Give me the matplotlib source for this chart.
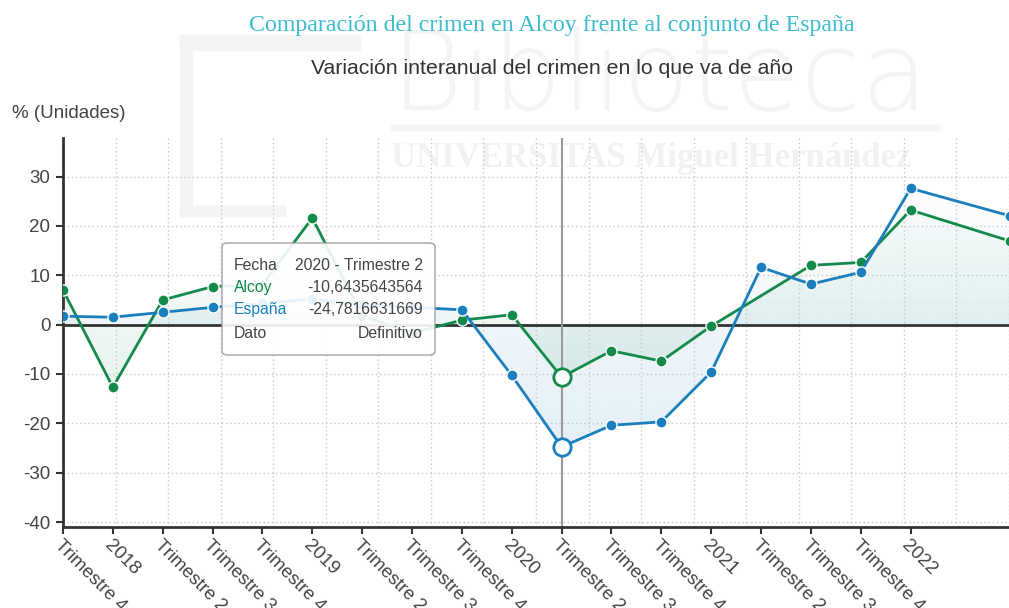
import numpy as np
import matplotlib
matplotlib.use("Agg")
import matplotlib.pyplot as plt
from matplotlib.patches import PathPatch, FancyBboxPatch, Rectangle
from matplotlib.colors import to_rgb

plt.rcParams["font.family"] = ["Liberation Sans", "DejaVu Sans"]
plt.rcParams["axes.unicode_minus"] = False

# quarters from 2017 T4 on, tick label text
tickLabels = ["Trimestre 4", "2018", "Trimestre 2", "Trimestre 3", "Trimestre 4",
              "2019", "Trimestre 2", "Trimestre 3", "Trimestre 4",
              "2020", "Trimestre 2", "Trimestre 3", "Trimestre 4",
              "2021", "Trimestre 2", "Trimestre 3", "Trimestre 4", "2022"]

# quarter index of each data point (last one falls just outside the view)
quarterPos = [0, 1, 2, 3, 4, 5, 6, 7, 8, 9, 10, 11, 12, 13, 14, 15, 16, 17, 19]

alcoy = [7.0, -12.7, 5.0, 7.7, 8.1, 21.6, 1.8, -1.7, 0.9, 2.0, -10.6435643564,
         -5.3, -7.4, -0.3, None, 12.0, 12.6, 23.2, 16.9]
espana = [1.7, 1.5, 2.5, 3.5, 4.3, 5.2, 4.0, 3.5, 3.0, -10.3, -24.7816631669,
          -20.4, -19.7, -9.6, 11.6, 8.2, 10.6, 27.6, 22.0]

hoverIdx = 10
hoverLabel = "2020 - Trimestre 2"

green = "#138a4c"
blue = "#1b7fbd"
textCol = "#444444"
wm = "#f4f4f4"

yMin, yMax = -41, 37.8
xMax = 18.84

fig = plt.figure(figsize=(10.09, 6.08), dpi=100)
ax = fig.add_axes([63 / 1009, 81 / 608, 946 / 1009, 389 / 608])
ax.set_facecolor("none")
ax.set_zorder(1)

# faint library watermark behind the chart
fig.text(391 / 1009, 1 - 110 / 608, "Biblioteca", fontsize=79, color=wm,
         family="DejaVu Sans", fontweight="light", va="baseline", zorder=0)
fig.patches.append(Rectangle((391 / 1009, 1 - 130 / 608), 548 / 1009, 5 / 608,
                             transform=fig.transFigure, color=wm, zorder=0))
fig.text(391 / 1009, 1 - 167 / 608, "UNIVERSITAS Miguel Hernández", fontsize=25,
         color="#f1f1f1", family="Liberation Serif", fontweight="bold",
         va="baseline", zorder=0)
fig.patches.append(Rectangle((180 / 1009, 1 - 212 / 608), 12 / 1009, 177 / 608,
                             transform=fig.transFigure, color=wm, zorder=0))
fig.patches.append(Rectangle((180 / 1009, 1 - 50 / 608), 180 / 1009, 15 / 608,
                             transform=fig.transFigure, color=wm, zorder=0))
fig.patches.append(Rectangle((180 / 1009, 1 - 216 / 608), 105 / 1009, 10 / 608,
                             transform=fig.transFigure, color=wm, zorder=0))


def gradFill(xs, ys, color):
    poly = ax.fill_between(xs, ys, 0, facecolor="none", edgecolor="none")
    clip = PathPatch(poly.get_paths()[0], facecolor="none", edgecolor="none",
                     transform=ax.transData)
    ax.add_patch(clip)
    yy = np.linspace(yMax, yMin, 300)
    img = np.zeros((300, 1, 4))
    img[..., :3] = to_rgb(color)
    img[:, 0, 3] = np.clip(0.07 - 0.0022 * yy, 0.01, 0.2)
    im = ax.imshow(img, extent=[0, 20, yMin, yMax], aspect="auto", zorder=1,
                   interpolation="bilinear")
    im.set_clip_path(clip)


series = [("Alcoy", alcoy, green), ("España", espana, blue)]
for name, vals, col in series:
    xs = np.array([p for p, v in zip(quarterPos, vals) if v is not None], dtype=float)
    ys = np.array([v for v in vals if v is not None], dtype=float)
    gradFill(xs, ys, col)

ax.axhline(0, color="#333333", lw=2, zorder=2)
ax.axvline(quarterPos[hoverIdx], color="#999999", lw=1.5, zorder=2)

# España drawn over Alcoy, as in the original
for name, vals, col in series:
    xs = [p for p, v in zip(quarterPos, vals) if v is not None]
    ys = [v for v in vals if v is not None]
    ax.plot(xs, ys, color=col, lw=2, marker="o", ms=8, mfc=col, mec="white",
            mew=1, zorder=3)
    ax.plot(quarterPos[hoverIdx], vals[hoverIdx], "o", ms=12.5, mfc="white",
            mec=col, mew=2, zorder=4)

ax.set_xlim(0, xMax)
ax.set_ylim(yMin, yMax)

ax.set_xticks(range(len(tickLabels)))
ax.set_xticklabels(tickLabels, rotation=-45, ha="left", va="top",
                   rotation_mode="anchor", fontsize=13.5, color=textCol)
ax.set_xticks(np.arange(0, 20, 1.054), minor=True)
ax.set_yticks([-40, -30, -20, -10, 0, 10, 20, 30])
ax.tick_params(axis="y", labelsize=13.5, labelcolor=textCol, length=5,
               color="#333333", width=1.5, pad=4)
ax.tick_params(axis="x", which="major", length=5, color="#333333", width=1.5,
               pad=2)
ax.tick_params(axis="x", which="minor", length=0)

ax.grid(axis="y", which="major", color="#c8c8c8", lw=1, ls=(0, (1, 2)))
ax.grid(axis="x", which="minor", color="#c8c8c8", lw=1, ls=(0, (1, 2)))
for s in ["top", "right"]:
    ax.spines[s].set_visible(False)
for s in ["left", "bottom"]:
    ax.spines[s].set_color("#333333")
    ax.spines[s].set_linewidth(2)

fig.text(552 / 1009, 1 - 25 / 608, "Comparación del crimen en Alcoy frente al conjunto de España",
         family="Liberation Serif", fontsize=17.2, color="#3bbccf",
         ha="center", va="center")
fig.text(552 / 1009, 1 - 68 / 608, "Variación interanual del crimen en lo que va de año",
         fontsize=15.3, color="#333333", ha="center", va="center")
fig.text(12 / 1009, 1 - 113 / 608, "% (Unidades)", fontsize=13.5, color=textCol,
         ha="left", va="center")

# hover tooltip
box = FancyBboxPatch((222 / 1009, 1 - 355 / 608), 213 / 1009, 112 / 608,
                     boxstyle="round,pad=0,rounding_size=0.006",
                     transform=fig.transFigure, facecolor="white", alpha=0.9,
                     edgecolor="#9a9a9a", lw=1, zorder=5)
fig.patches.append(box)
rows = [("Fecha", hoverLabel, "#444444"),
        ("Alcoy", "%.10f" % alcoy[hoverIdx], green),
        ("España", "%.10f" % espana[hoverIdx], blue),
        ("Dato", "Definitivo", "#444444")]
rowY = [265, 288, 310, 333]
for (k, v, c), ry in zip(rows, rowY):
    fig.text(234 / 1009, 1 - ry / 608, k, fontsize=11.3, color=c,
             ha="left", va="center", zorder=6)
    fig.text(423 / 1009, 1 - ry / 608, v.replace(".", ","), fontsize=11.3,
             color="#444444", ha="right", va="center", zorder=6)

fig.savefig("out.png", dpi=100)
